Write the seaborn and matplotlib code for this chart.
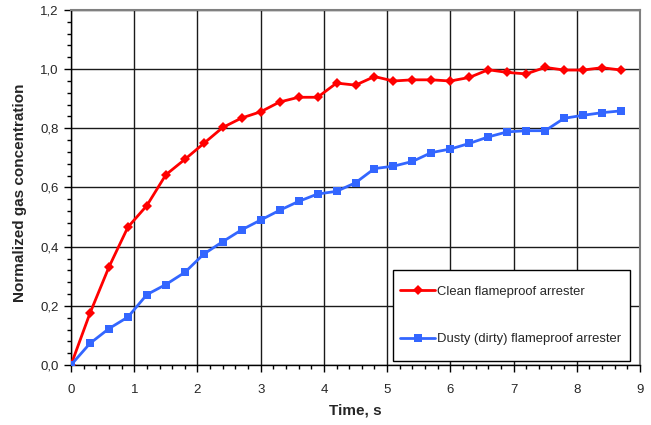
import numpy as np
import pandas as pd
import matplotlib
matplotlib.use("Agg")
import matplotlib.pyplot as plt
import seaborn as sns
from matplotlib.ticker import MultipleLocator, FuncFormatter
from matplotlib.patches import Rectangle

time_s = [0.0, 0.3, 0.6, 0.9, 1.2, 1.5, 1.8, 2.1, 2.4, 2.7, 3.0, 3.3, 3.6, 3.9, 4.2,
          4.5, 4.8, 5.1, 5.4, 5.7, 6.0, 6.3, 6.6, 6.9, 7.2, 7.5, 7.8, 8.1, 8.4, 8.7]
clean = [0.0, 0.175, 0.331, 0.466, 0.539, 0.643, 0.695, 0.749, 0.803, 0.835, 0.856, 0.889,
         0.905, 0.905, 0.953, 0.946, 0.975, 0.960, 0.964, 0.964, 0.960, 0.972, 0.998, 0.989,
         0.984, 1.006, 0.997, 0.997, 1.005, 0.997]
dusty = [0.0, 0.073, 0.123, 0.162, 0.238, 0.272, 0.313, 0.375, 0.417, 0.457, 0.490, 0.523,
         0.553, 0.578, 0.587, 0.616, 0.664, 0.672, 0.688, 0.718, 0.730, 0.749, 0.771, 0.788,
         0.792, 0.792, 0.834, 0.844, 0.853, 0.859]
series_names = ["Clean flameproof arrester", "Dusty (dirty) flameproof arrester"]

df = pd.concat([
    pd.DataFrame({"Time": time_s, "Conc": clean, "Series": series_names[0]}),
    pd.DataFrame({"Time": time_s, "Conc": dusty, "Series": series_names[1]}),
])

sns.set_style("white")
plt.rcParams['font.family'] = ['Liberation Sans', 'DejaVu Sans']

fig = plt.figure(figsize=(6.51, 4.25), dpi=100)
ax = fig.add_axes([71/651, 1-365/425, (640-71)/651, (365-10)/425])

palette = {series_names[0]: "#FF0000", series_names[1]: "#3366FF"}
sns.lineplot(data=df, x="Time", y="Conc", hue="Series", style="Series",
             markers={series_names[0]: "D", series_names[1]: "s"}, dashes=False,
             palette=palette, linewidth=2, markersize=5.5, markeredgewidth=0,
             ax=ax, zorder=3)
for l in ax.lines:
    if l.get_marker() == "D":
        l.set_markersize(5)

ax.set_xlim(0, 9)
ax.set_ylim(0, 1.2)
ax.xaxis.set_major_locator(MultipleLocator(1))
ax.xaxis.set_minor_locator(MultipleLocator(0.2))
ax.yaxis.set_major_locator(MultipleLocator(0.2))
ax.yaxis.set_minor_locator(MultipleLocator(0.04))
ax.yaxis.set_major_formatter(FuncFormatter(lambda v, p: f"{v:.1f}".replace(".", ",")))
ax.grid(True, which="major", color="#1a1a1a", linewidth=1)
ax.set_axisbelow(True)
ax.tick_params(axis="both", which="major", direction="out", length=5, width=1,
               color="black", labelsize=9.5, bottom=True, left=True)
ax.tick_params(axis="x", which="major", pad=9)
ax.tick_params(axis="y", which="major", pad=4)
ax.tick_params(axis="both", which="minor", direction="out", length=3, width=1,
               color="black", bottom=True, left=True)
for side in ["top", "right"]:
    ax.spines[side].set_color("#808080")
    ax.spines[side].set_linewidth(1.5)
for side in ["bottom", "left"]:
    ax.spines[side].set_color("black")
    ax.spines[side].set_linewidth(1)

ax.set_xlabel("Time, s", fontsize=11, fontweight="bold", labelpad=5)
ax.set_ylabel("Normalized gas concentration", fontsize=11, fontweight="bold")
ax.yaxis.set_label_coords(-44/569, (365-193)/355)

# legend frame box
ax.add_patch(Rectangle(((393-71)/569, (365-361)/355), 237/569, 91/355,
                       transform=ax.transAxes, facecolor="white", edgecolor="black",
                       linewidth=1, zorder=4))

handles, labels = ax.get_legend_handles_labels()
leg = ax.legend(handles, labels, loc="center left",
                bbox_to_anchor=((400-71)/569, (365-315.5)/355),
                frameon=False, fontsize=9.4, labelspacing=2.7,
                borderpad=0, handlelength=2.7, handletextpad=0.15, borderaxespad=0)
leg.set_zorder(5)

fig.savefig("out.png", dpi=100)
